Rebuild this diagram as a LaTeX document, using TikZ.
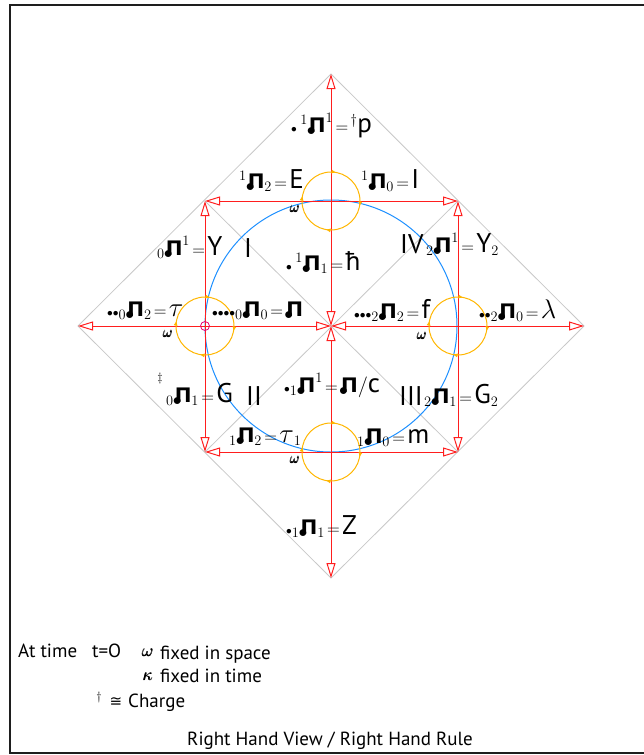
\documentclass[tikz,border=0pt]{standalone}
\usepackage{amsmath}
\usepackage{graphicx}
\usepackage[no-math]{fontspec}
\setmainfont{PT Sans}
\newfontfamily\pifont{DejaVu Sans}
\usetikzlibrary{arrows.meta,decorations.markings}

\definecolor{axred}{RGB}{255,30,30}
\definecolor{gridgray}{RGB}{200,200,200}
\definecolor{circblue}{RGB}{30,144,255}
\definecolor{spinyel}{RGB}{255,182,0}
\definecolor{pinkc}{RGB}{230,0,120}
\definecolor{framecol}{RGB}{30,30,30}

% note-like Pi symbol: bold sans Pi with a note head on its left stem
\newcommand\pn{\mathord{\text{\kern1pt\rlap{\kern-0.1em\raisebox{-3pt}{\scalebox{0.85}{$\bullet$}}}{\pifont\bfseries Π}}}}
\newcommand\dt{\mathord{\scalebox{0.8}{$\scriptstyle\bullet$}}}
\newcommand\eqq{\mkern2mu\mathord{\scalebox{0.85}{$=$}}\mkern2mu}
\newcommand\vl[1]{\text{\fontsize{27}{27}\selectfont #1}}
\newcommand\vg[1]{\mathord{\scalebox{1.3}{$#1$}}}

\tikzset{
  lab/.style={anchor=base west, inner sep=0pt, font=\fontsize{20}{24}\selectfont},
  roman/.style={anchor=base west, inner sep=0pt, font=\fontsize{27}{30}\selectfont},
  omark/.style={inner sep=0pt, font=\fontsize{15}{15}\selectfont},
  legendtxt/.style={anchor=base west, inner sep=0pt, font=\fontsize{19}{22}\selectfont},
  gridline/.style={draw=gridgray, line width=0.8pt},
  bluecirc/.style={draw=circblue, line width=1pt},
  redarrow/.style={draw=axred, line width=1pt, >={Triangle[open,length=15pt,width=9pt]}, <->},
  spinloop/.style={draw=spinyel, line width=1pt, postaction=decorate,
    decoration={markings,
      mark=at position 0.03 with {\arrow[spinyel]{Latex[length=5pt,width=4pt]}},
      mark=at position 0.28 with {\arrow[spinyel]{Latex[length=5pt,width=4pt]}},
      mark=at position 0.53 with {\arrow[spinyel]{Latex[length=5pt,width=4pt]}},
      mark=at position 0.78 with {\arrow[spinyel]{Latex[length=5pt,width=4pt]}}}},
  framestyle/.style={draw=framecol, line width=2.5pt}
}

\begin{document}
\begin{tikzpicture}[x=1pt,y=1pt]
\useasboundingbox (0,0) rectangle (644,-755);

% frame
\draw[framestyle] (644,-5) -- (10,-5) -- (10,-753) -- (644,-753);

% key points
\coordinate (C) at (331,-326);
\coordinate (T) at (331,-74);
\coordinate (B) at (331,-578);
\coordinate (L) at (78,-326);
\coordinate (R) at (584,-326);
\coordinate (TL) at (205,-201);
\coordinate (TR) at (458,-201);
\coordinate (BR) at (458,-452);
\coordinate (BL) at (205,-452);
\coordinate (MT) at (331,-201);
\coordinate (MB) at (331,-452);
\coordinate (ML) at (205,-326);
\coordinate (MR) at (458,-326);

% gray grid
\draw[gridline] (T) -- (R) -- (B) -- (L) -- cycle;
\draw[gridline] (TL) -- (BR);
\draw[gridline] (TR) -- (BL);

% blue circle
\draw[bluecirc] (C) circle[radius=126pt];

% red arrows
\draw[redarrow] (C) -- (T);
\draw[redarrow] (C) -- (B);
\draw[redarrow] (C) -- (L);
\draw[redarrow] (C) -- (R);
\draw[redarrow] (TL) -- (TR);
\draw[redarrow] (TR) -- (BR);
\draw[redarrow] (BR) -- (BL);
\draw[redarrow] (BL) -- (TL);

% yellow spin circles (clockwise)
\draw[spinloop] (MT) ++(0,29pt) arc[start angle=90, end angle=-270, radius=29pt];
\draw[spinloop] (MB) ++(0,29pt) arc[start angle=90, end angle=-270, radius=29pt];
\draw[spinloop] (ML) ++(0,29pt) arc[start angle=90, end angle=-270, radius=29pt];
\draw[spinloop] (MR) ++(0,29pt) arc[start angle=90, end angle=-270, radius=29pt];

% small magenta circle
\draw[pinkc, line width=0.8pt] (ML) circle[radius=4.5pt];

% omega markers
\node[omark] (w1) at (295,-209) {$\pmb{\omega}$};
\node[omark] (w2) at (168,-334) {$\pmb{\omega}$};
\node[omark] (w3) at (422,-336) {$\pmb{\omega}$};
\node[omark] (w4) at (295,-460) {$\pmb{\omega}$};

% labels
\node[lab] (n1) at (291,-132) {$\dt\,{}^{1}\pn^{1}\eqq{}^{\dagger}\vl{p}$};
\node[lab] (n2) at (239,-188) {${}^{1}\pn_{2}\eqq\vl{E}$};
\node[lab] (n3) at (361,-188) {${}^{1}\pn_{0}\eqq\vl{I}$};
\node[lab] (n4) at (157,-255) {${}_{0}\pn^{1}\eqq\vl{Y}$};
\node[roman] (r1) at (244,-257) {I};
\node[lab] (n5) at (286,-270) {$\dt\,{}^{1}\pn_{1}\eqq\vl{ħ}$};
\node[roman] (r4) at (400,-253) {IV};
\node[lab] (n6) at (426,-252) {${}_{2}\pn^{1}\eqq\vl{Y}_{2}$};
\node[lab] (n7) at (107,-316) {$\dt\dt{}_{0}\pn_{2}\eqq\vg{\tau}$};
\node[lab] (n8) at (212,-316) {$\dt\dt\dt\dt{}_{0}\pn_{0}\eqq\pn$};
\node[lab] (n9) at (354,-318) {$\dt\dt\dt{}_{2}\pn_{2}\eqq\vl{f}$};
\node[lab] (n10) at (479,-318) {$\dt\dt{}_{2}\pn_{0}\eqq\vg{\lambda}$};
\node[inner sep=0pt, font=\fontsize{13}{13}\selectfont] (dd) at (160,-378) {$\ddagger$};
\node[lab] (n11) at (166,-402) {${}_{0}\pn_{1}\eqq\vl{G}$};
\node[roman] (r2) at (246,-405) {II};
\node[lab] (n12) at (284,-392) {$\dt{}_{1}\pn^{1}\eqq\pn/\vl{c}$};
\node[roman] (r3) at (399,-405) {III};
\node[lab] (n13) at (424,-403) {${}_{2}\pn_{1}\eqq\vl{G}_{2}$};
\node[lab] (n14) at (229,-442) {${}_{1}\pn_{2}\eqq\vg{\tau}_{1}$};
\node[lab] (n15) at (357,-443) {${}_{1}\pn_{0}\eqq\vl{m}$};
\node[lab] (n16) at (286,-534) {$\dt{}_{1}\pn_{1}\eqq\vl{Z}$};

% legend
\node[legendtxt] (at) at (18,-657) {At time};
\node[legendtxt] (t0) at (92,-657) {t=O};
\node[inner sep=0pt, font=\fontsize{18}{18}\selectfont] (lw) at (148,-653) {$\pmb{\omega}$};
\node[legendtxt] (fs) at (160,-659) {fixed in space};
\node[inner sep=0pt, font=\fontsize{18}{18}\selectfont] (lk) at (148,-677) {$\pmb{\kappa}$};
\node[legendtxt] (ft) at (160,-682) {fixed in time};
\node[inner sep=0pt, font=\fontsize{12}{12}\selectfont] (ldg) at (99,-697) {$\dagger$};
\node[inner sep=0pt, font=\fontsize{15}{15}\pifont] (lc) at (116,-702) {≅};
\node[legendtxt] (ch) at (128,-707) {Charge};
\node[legendtxt] (rh) at (187,-745) {Right Hand View / Right Hand Rule};
\end{tikzpicture}
\end{document}
